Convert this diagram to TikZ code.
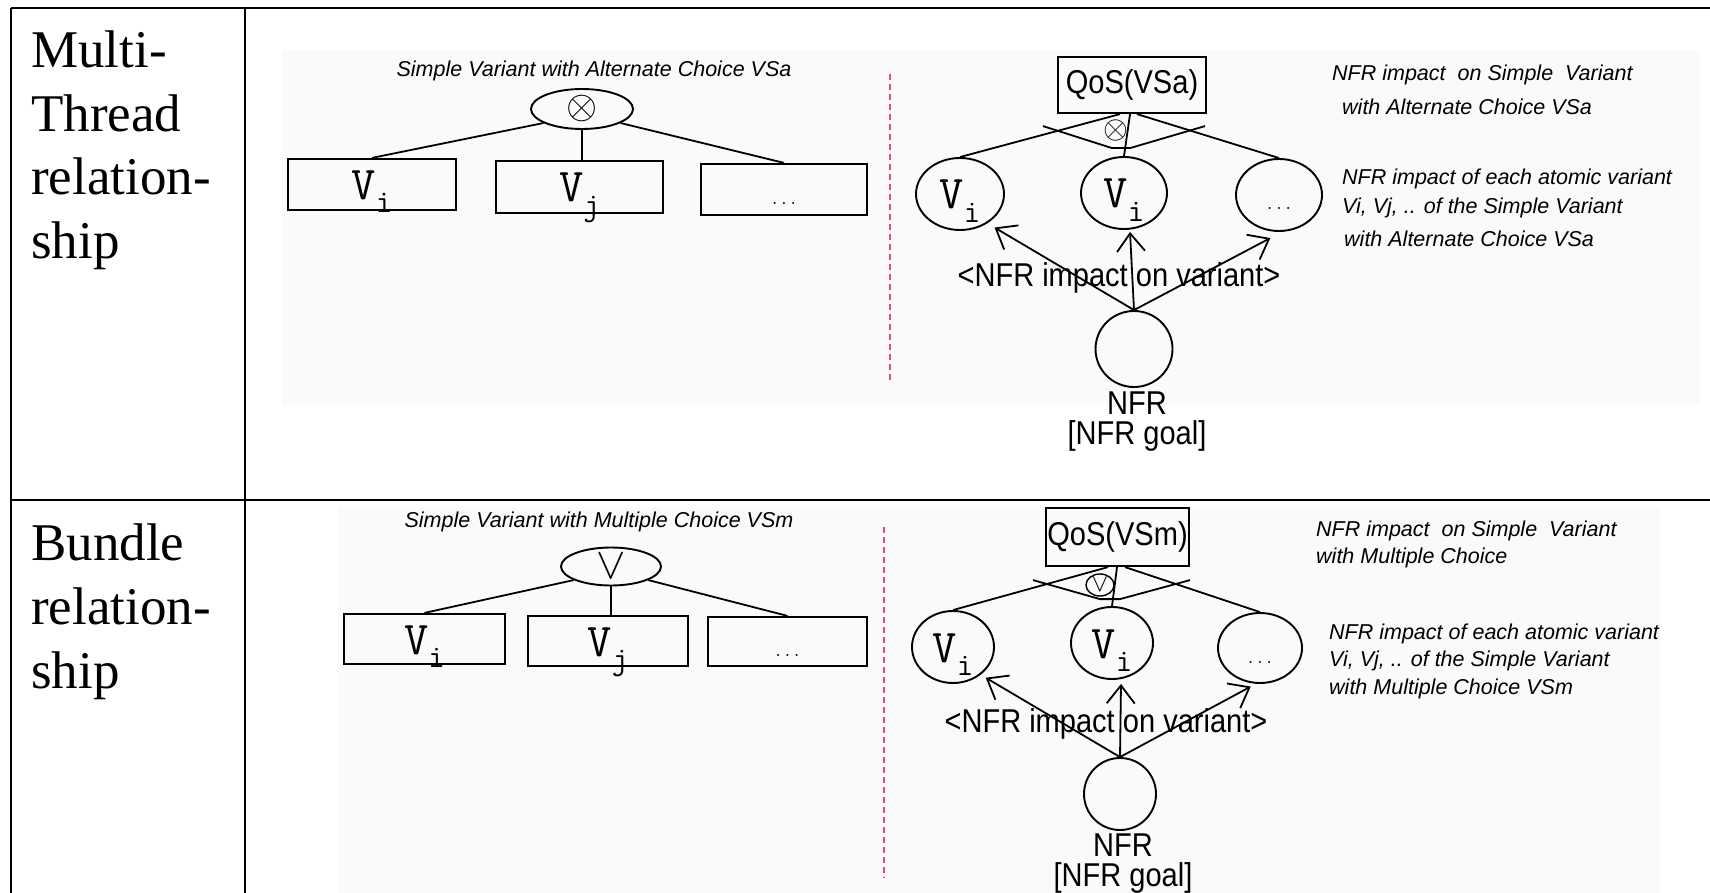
\documentclass[tikz,border=0pt]{standalone}
\usepackage{graphicx}
\usepackage{fontspec}
\setmainfont{Liberation Serif}
\newfontfamily\diagsans{Liberation Sans}[FakeStretch=0.88]
\newfontfamily\notesans{Liberation Sans}
\usetikzlibrary{shapes.geometric,arrows.meta,calc}
\definecolor{dividerpink}{RGB}{228,76,134}

% atomic variant label: V with a lowered index
\newcommand\atomlabel[1]{{\ttfamily\fontsize{47}{47}\selectfont V\raisebox{-0.28em}{\fontsize{32}{32}\selectfont #1}}}
\newcommand\atomdots{{\ttfamily\fontsize{18}{18}\selectfont ...}}

\begin{document}
\begin{tikzpicture}[x=1pt,y=-1pt,
  tbl/.style={line width=2.4pt},
  panel/.style={fill=black!2,draw=none},
  vbox/.style={draw,line width=2.2pt,rectangle,inner sep=0pt,text height=30pt,text depth=0pt},
  vcirc/.style={draw,line width=1.9pt,ellipse,inner sep=0pt,text height=30pt,text depth=0pt},
  choice/.style={draw,line width=1.9pt,ellipse,inner sep=0pt},
  symb/.style={inner sep=0pt},
  qosbox/.style={draw,line width=2.2pt,rectangle,inner sep=0pt,font=\diagsans\fontsize{33}{36}\selectfont},
  link/.style={line width=1.8pt},
  impact/.style={line width=1.8pt,-{Straight Barb[length=18pt,width=28pt]}},
  rowlabel/.style={anchor=base west,inner sep=0pt,font=\fontsize{53}{64}\selectfont},
  note/.style={anchor=west,inner sep=0pt,font=\notesans\itshape\fontsize{21.5}{24}\selectfont},
  sanslabel/.style={inner sep=0pt,font=\diagsans\fontsize{33}{30}\selectfont},
  divider/.style={line width=2.6pt,draw=dividerpink,dash pattern=on 6pt off 4pt}
]
\path[use as bounding box] (0,0) rectangle (1710,893);

% light backgrounds of the two diagram panels
\fill[panel] (282,50) rectangle (1700,405);
\fill[panel] (338,507) rectangle (1660,893);

% ---------- row labels ----------
\node[rowlabel] (mtl1) at (31,68) {Multi-};
\node[rowlabel] (mtl2) at (31,131.5) {Thread};
\node[rowlabel] (mtl3) at (31,195) {relation-};
\node[rowlabel] (mtl4) at (31,258.5) {ship};
\node[rowlabel] (bdl1) at (31,560) {Bundle};
\node[rowlabel] (bdl2) at (31,624) {relation-};
\node[rowlabel] (bdl3) at (31,688) {ship};

% ---------- alternate choice: variant tree ----------
\node[note,anchor=center] (titleA) at (594,71) {Simple Variant with Alternate Choice VSa};
\node[choice,minimum width=102pt,minimum height=40pt] (altA) at (582,109) {};
\node[symb] (altAsym) at (altA.center) {\scalebox{4.0}{$\otimes$}};
\node[vbox,minimum width=168pt,minimum height=51pt] (bA1) at (372,184.5) {\atomlabel{i}};
\node[vbox,minimum width=167pt,minimum height=52pt] (bA2) at (579.5,187) {\atomlabel{j}};
\node[vbox,minimum width=166pt,minimum height=51pt] (bA3) at (784,189.5) {\atomdots};
\draw[link] (altA.200) -- (bA1.north);
\draw[link] (altA.south) -- (altA.south |- bA2.north);
\draw[link] (altA.-20) -- (bA3.north);

\draw[divider] (890,74) -- (890,382);

% ---------- alternate choice: NFR impact ----------
\node[qosbox,minimum width=148pt,minimum height=56pt] (qosA) at (1132,85) {QoS(VSa)};
\node[vcirc,minimum width=88pt,minimum height=72pt] (cA1) at (960,194) {\atomlabel{i}};
\node[vcirc,minimum width=86pt,minimum height=72pt] (cA2) at (1124,193) {\atomlabel{i}};
\node[vcirc,minimum width=86pt,minimum height=72pt] (cA3) at (1279,195) {\atomdots};
\node[vcirc,minimum width=77pt,minimum height=76pt] (nfrA) at (1134,349) {};
\node[sanslabel,align=center] (goalA) at (1137,422) {NFR\\{[NFR goal]}};
\node[sanslabel] (impA) at (1119,278) {<NFR impact on variant>};

\draw[link] ($(qosA.south)+(-12,0)$) -- (cA1.north);
\draw[link] ($(qosA.south)+(-2,0)$) -- (cA2.north);
\draw[link] ($(qosA.south)+(5,0)$) -- (cA3.north);
\draw[link] ($(qosA.south)+(-89,12)$) -- ++(69,22) -- ++(18,0) -- ++(75,-22);
\node[symb] (andA) at (1116,131) {\scalebox{3.2}{$\otimes$}};

\draw[impact] (nfrA.north) -- ($(cA1.-45)+(6,5)$);
\draw[impact] (nfrA.north) -- ($(cA2.south)+(6,2)$);
\draw[impact] (nfrA.north) -- ($(cA3.-105)+(1,7)$);

\node[note] (nA1) at (1332,75) {NFR impact~ on Simple~ Variant};
\node[note] (nA2) at (1342,107) {with Alternate Choice VSa};
\node[note] (nA3) at (1342,179) {NFR impact of each atomic variant};
\node[note] (nA4) at (1342,208) {Vi, Vj, .. of the Simple Variant};
\node[note] (nA5) at (1344,239) {with Alternate Choice VSa};

% ---------- multiple choice: variant tree ----------
\node[note,anchor=center] (titleB) at (599,522) {Simple Variant with Multiple Choice VSm};
\node[choice,minimum width=100pt,minimum height=38pt] (altB) at (611,566.5) {};
\node[symb] (altBsym) at (altB.center) {\scalebox{4.4}{$\vee$}};
\node[vbox,minimum width=161pt,minimum height=50pt] (bB1) at (424.5,639) {\atomlabel{i}};
\node[vbox,minimum width=160pt,minimum height=50pt] (bB2) at (608,641) {\atomlabel{j}};
\node[vbox,minimum width=159pt,minimum height=49pt] (bB3) at (787.5,641.5) {\atomdots};
\draw[link] (altB.200) -- (bB1.north);
\draw[link] (altB.south) -- (altB.south |- bB2.north);
\draw[link] (altB.-20) -- (bB3.north);

\draw[divider] (884,527) -- (884,878);

% ---------- multiple choice: NFR impact ----------
\node[qosbox,minimum width=143pt,minimum height=58pt] (qosB) at (1117.5,537) {QoS(VSm)};
\node[vcirc,minimum width=82pt,minimum height=72pt] (cB1) at (953,647) {\atomlabel{i}};
\node[vcirc,minimum width=82pt,minimum height=72pt] (cB2) at (1112,643) {\atomlabel{i}};
\node[vcirc,minimum width=84pt,minimum height=70pt] (cB3) at (1260,648) {\atomdots};
\node[vcirc,minimum width=72pt,minimum height=72pt] (nfrB) at (1120,794) {};
\node[sanslabel,align=center] (goalB) at (1123,864) {NFR\\{[NFR goal]}};
\node[sanslabel] (impB) at (1106,724) {<NFR impact on variant>};

\draw[link] ($(qosB.south)+(-9.5,0)$) -- (cB1.north);
\draw[link] ($(qosB.south)+(-0.5,0)$) -- (cB2.north);
\draw[link] ($(qosB.south)+(7.5,0)$) -- (cB3.north);
\draw[link] ($(qosB.south)+(-84.5,13)$) -- ++(67,19) -- ++(20,0) -- ++(70,-19);
\node[choice,line width=1.4pt,minimum width=28pt,minimum height=22pt] (orB) at (1100,585) {};
\node[symb] (orBsym) at (orB.center) {\scalebox{2.5}{$\vee$}};

\draw[impact] (nfrB.north) -- ($(cB1.-45)+(5,3)$);
\draw[impact] (nfrB.north) -- ($(cB2.south)+(9,4)$);
\draw[impact] (nfrB.north) -- ($(cB3.-100)+(-3,3)$);

\node[note] (nB1) at (1316,531) {NFR impact~ on Simple~ Variant};
\node[note] (nB2) at (1316,558) {with Multiple Choice};
\node[note] (nB3) at (1329,634) {NFR impact of each atomic variant};
\node[note] (nB4) at (1329,661) {Vi, Vj, .. of the Simple Variant};
\node[note] (nB5) at (1329,689) {with Multiple Choice VSm};

% ---------- table rules ----------
\draw[tbl] (11,8) -- (1710,8);
\draw[tbl] (11,500) -- (1710,500);
\draw[tbl] (11,8) -- (11,893);
\draw[tbl] (245,8) -- (245,893);
\end{tikzpicture}
\end{document}
